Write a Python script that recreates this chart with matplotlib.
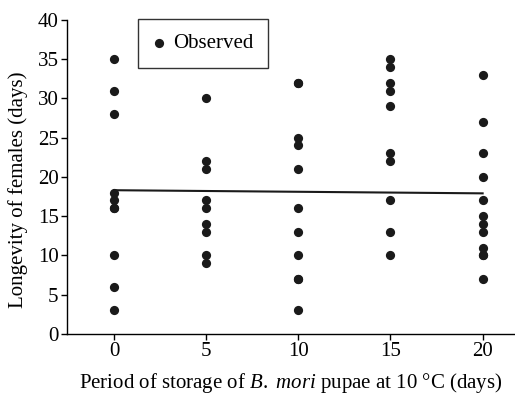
import matplotlib
matplotlib.use("Agg")
import matplotlib.pyplot as plt
import numpy as np

plt.rcParams['font.family'] = ['Liberation Serif', 'DejaVu Serif']
plt.rcParams['mathtext.fontset'] = 'custom'
plt.rcParams['mathtext.rm'] = 'Liberation Serif'
plt.rcParams['mathtext.it'] = 'Liberation Serif:italic'

storage_days = [0, 5, 10, 15, 20]
longevity = {
    0: [35, 31, 28, 18, 17, 16, 16, 10, 6, 3],
    5: [30, 22, 21, 17, 16, 14, 13, 10, 9],
    10: [32, 32, 25, 24, 21, 16, 13, 10, 7, 7, 3],
    15: [35, 34, 32, 31, 29, 23, 22, 17, 13, 10],
    20: [33, 27, 23, 20, 17, 15, 14, 13, 11, 10, 10, 7],
}
fit_x = [0, 20]
fit_y = [18.3, 17.9]

fig = plt.figure(figsize=(5.15, 3.97), dpi=100)
ax = fig.add_axes([0.130, 0.159, 0.868, 0.791])

xs, ys = [], []
for d in storage_days:
    xs += [d] * len(longevity[d])
    ys += longevity[d]
ax.scatter(xs, ys, s=44, color='#1a1a1a', zorder=3, label='Observed', linewidths=0)
ax.plot(fit_x, fit_y, color='#1a1a1a', lw=1.5, zorder=2)

ax.set_xlim(-2.55, 21.7)
ax.set_ylim(0, 40)
ax.set_xticks(storage_days)
ax.set_yticks(range(0, 41, 5))
for s in ['top', 'right']:
    ax.spines[s].set_visible(False)
for s in ['left', 'bottom']:
    ax.spines[s].set_linewidth(1.0)
ax.tick_params(direction='out', length=4, width=1.0, labelsize=15, pad=2)

ax.set_xlabel(r'Period of storage of $\it{B.}$ $\it{mori}$ pupae at 10 °C (days)', fontsize=15, labelpad=7)
ax.set_ylabel('Longevity of females (days)', fontsize=15)
ax.yaxis.set_label_coords(-0.087, 0.459)

leg = ax.legend(loc='upper left', bbox_to_anchor=(0.16, 1.003), borderaxespad=0,
                fontsize=15, frameon=True, fancybox=False, handletextpad=0.34,
                borderpad=0.7, handlelength=0.6, markerscale=1.0)
leg.get_frame().set_edgecolor('black')
leg.get_frame().set_linewidth(1.0)

fig.savefig('out.png', dpi=100)
